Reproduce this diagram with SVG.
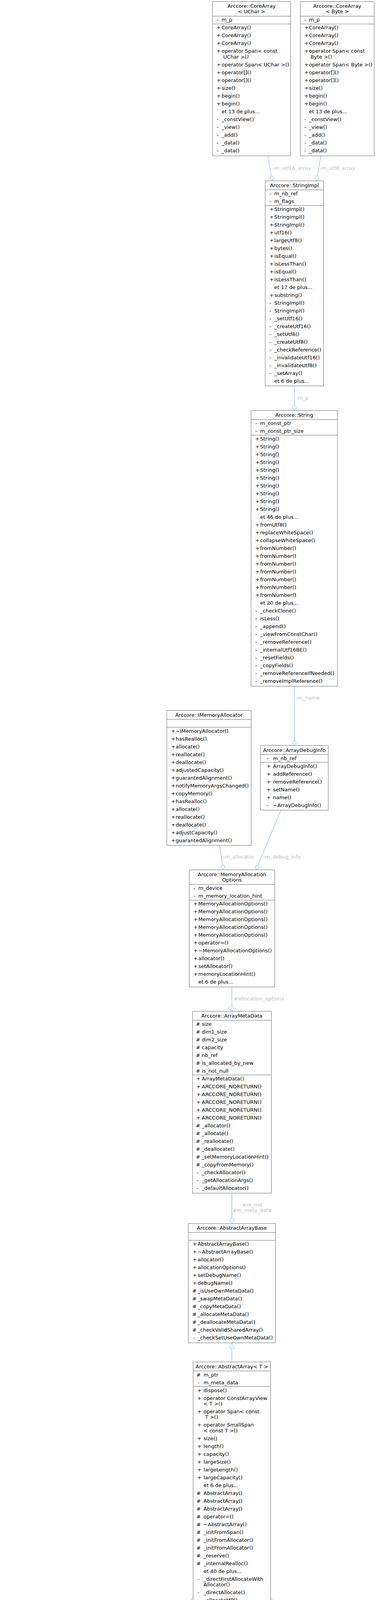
<svg xmlns="http://www.w3.org/2000/svg" width="978" height="6339" viewBox="0 0 978 6339">
<style>
text{font-family:"DejaVu Sans","Liberation Sans",sans-serif;font-size:13px;fill:#000}
.c{text-anchor:middle}
.b{fill:#fff;stroke:#666;stroke-width:1}
.g{fill:#fff;stroke:#bfbfbf;stroke-width:1}
.s{stroke:#666;stroke-width:1}
.sg{stroke:#bfbfbf;stroke-width:1}
.e{fill:none;stroke:#63b8ff;stroke-width:1.1}
.d{marker-end:url(#od)}
.t{marker-end:url(#tri)}
.l{fill:#bebebe}
</style>
<defs>
<marker id="od" viewBox="0 0 16 11" markerWidth="16" markerHeight="11" refX="15.5" refY="5.5" orient="auto" markerUnits="userSpaceOnUse"><path d="M0.5,5.5 L8,0.5 L15.5,5.5 L8,10.5 Z" fill="#fff" stroke="#63b8ff"/></marker>
<marker id="tri" viewBox="0 0 16 12" markerWidth="16" markerHeight="12" refX="15.5" refY="6" orient="auto" markerUnits="userSpaceOnUse"><path d="M0.5,0.5 L15.5,6 L0.5,11.5 Z" fill="#fff" stroke="#63b8ff"/></marker>
</defs>
<rect width="978" height="6339" fill="#fff"/>

<g id="edges">
<path class="e d" d="M685.7,399 L697,463"/>
<path class="e d" d="M821.7,399 L810,463"/>
<path class="e d" d="M754,988 L754,1051"/>
<path class="e d" d="M753.8,1756.5 L753.8,1908.6"/>
<path class="e d" d="M561.9,2164.2 L572,2226.9"/>
<path class="e d" d="M719,2074.1 L655.5,2226.9"/>
<path class="e d" d="M593.6,2526.8 L593.6,2588.9"/>
<path class="e d" d="M593.6,3054.4 L593.6,3132.2"/>
<path class="e t" d="M593.6,3486.6 L593.6,3437.7"/>
<path class="e t" d="M455.5,4200 L494.4,4090"/>
<path class="e t" d="M593.6,4200 L593.6,4150.2"/>
<path class="e t" d="M731.6,4200 L692.7,4090"/>
<path class="e t" d="M377.9,4685.4 L377.9,4629.2"/>
<path class="e t" d="M593.3,4679 L593.3,4629.2"/>
<path class="e t" d="M809.3,4982.5 L809.3,4629.2"/>
<path class="e d" d="M134,4851 C114,4960 112,5110 125,5200 C130,5240 136,5265 143,5281 L208,5386.5"/>
<path class="e d" d="M165.7,4851 C200,4900 245,4960 245,5040 L245,5250 C245,5285 265,5292 300,5292 L350,5293 C358,5294 365,5300 374.2,5309"/>
<path class="e d" d="M126,4851 C60,4960 10,5150 6,5354 C4,5560 120,5790 365,5889 L378.6,5897"/>
<path class="e d" d="M386.4,4951 C392,5040 400,5140 410,5230 L421,5301.2"/>
<path class="e d" d="M565.8,4959 C558,5020 555,5100 555,5160 C555,5220 545,5260 533,5301.2"/>
<path class="e d" d="M716.6,5272.7 C695,5290 665,5283 645,5290 C600,5305 575,5360 572,5420 C570,5480 582,5540 578,5600 L553.5,5678"/>
<path class="e d" d="M466.8,5615.5 L466.8,5678"/>
<path class="e d" d="M714,5586 C690,5625 600,5745 555,5811"/>
<path class="e t" d="M378.6,5732 C360,5690 315,5590 296,5532"/>
<path class="e t" d="M466.5,6247.7 L466.5,6198"/>
<path class="e d" d="M883,5426 C907,5432 914,5468 884,5491"/>
<text class="l" x="697.7" y="435">-m_utf16_array</text>
<text class="l" x="818.3" y="435">-m_utf8_array</text>
<text class="l" x="758" y="1023">-m_p</text>
<text class="l" x="757.6" y="1790.5">-m_name</text>
<text class="l" x="570.7" y="2198.2">-m_allocator</text>
<text class="l" x="673.7" y="2198.2">-m_debug_info</text>
<text class="l" x="598.5" y="2560.5">#allocation_options</text>
<text class="l c" x="645" y="3088.5">#m_md</text>
<text class="l c" x="645" y="3103">#m_meta_data</text>
<text class="l c" x="191.5" y="5126.1">#m_count</text>
<text class="l c" x="191.5" y="5140.5">#m_nb_bucket</text>
<text class="l c" x="326" y="5110.5">-m_buffer_size</text>
<text class="l c" x="326" y="5126.1">-m_current_buffer</text>
<text class="l c" x="326" y="5140.5">_size</text>
<text class="l c" x="326" y="5154.9">-m_nb_in_buffer</text>
<text class="l" x="421.3" y="5133.4">-m_current_buffer</text>
<text class="l" x="566.8" y="5133.4">-m_allocated_buffers</text>
<text class="l" x="63.3" y="5461.8">-m_max_count</text>
<text class="l" x="624" y="5462">-m_buckets</text>
<text class="l" x="912.3" y="5462.8">+m_next</text>
<text class="l" x="471.6" y="5650.4">-m_buffer</text>
<text class="l" x="680.6" y="5650.4">-m_first_free</text>
</g>

<g id="coreArrayUChar">
<rect class="b" x="544" y="4" width="200" height="395"/>
<line class="s" x1="544" y1="41.4" x2="744" y2="41.4"/><line class="s" x1="544" y1="61.4" x2="744" y2="61.4"/>
<text class="c" x="644" y="20">Arccore::CoreArray</text><text class="c" x="644" y="34.4">&lt; UChar &gt;</text>
<text x="554.5" y="55.4">-</text><text x="567.3" y="55.4">m_p</text>
<text x="554.5" y="75.4">+</text><text x="567.3" y="75.4">CoreArray()</text>
<text x="554.5" y="95.4">+</text><text x="567.3" y="95.4">CoreArray()</text>
<text x="554.5" y="115.4">+</text><text x="567.3" y="115.4">CoreArray()</text>
<text x="554.5" y="135.4">+</text><text x="567.3" y="135.4">operator Span&lt; const</text><text x="571.4" y="149.8">UChar &gt;()</text>
<text x="554.5" y="169.8">+</text><text x="567.3" y="169.8">operator Span&lt; UChar &gt;()</text>
<text x="554.5" y="189.8">+</text><text x="567.3" y="189.8">operator[]()</text>
<text x="554.5" y="209.8">+</text><text x="567.3" y="209.8">operator[]()</text>
<text x="554.5" y="229.8">+</text><text x="567.3" y="229.8">size()</text>
<text x="554.5" y="249.8">+</text><text x="567.3" y="249.8">begin()</text>
<text x="554.5" y="269.8">+</text><text x="567.3" y="269.8">begin()</text>
<text x="567.3" y="289.8">et 13 de plus...</text>
<text x="554.5" y="309.8">-</text><text x="567.3" y="309.8">_constView()</text>
<text x="554.5" y="329.8">-</text><text x="567.3" y="329.8">_view()</text>
<text x="554.5" y="349.8">-</text><text x="567.3" y="349.8">_add()</text>
<text x="554.5" y="369.8">-</text><text x="567.3" y="369.8">_data()</text>
<text x="554.5" y="389.8">-</text><text x="567.3" y="389.8">_data()</text>
</g>

<g id="coreArrayByte">
<rect class="b" x="769" y="4" width="189" height="395"/>
<line class="s" x1="769" y1="41.4" x2="958" y2="41.4"/><line class="s" x1="769" y1="61.4" x2="958" y2="61.4"/>
<text class="c" x="863.5" y="20">Arccore::CoreArray</text><text class="c" x="863.5" y="34.4">&lt; Byte &gt;</text>
<text x="779" y="55.4">-</text><text x="791" y="55.4">m_p</text>
<text x="779" y="75.4">+</text><text x="791" y="75.4">CoreArray()</text>
<text x="779" y="95.4">+</text><text x="791" y="95.4">CoreArray()</text>
<text x="779" y="115.4">+</text><text x="791" y="115.4">CoreArray()</text>
<text x="779" y="135.4">+</text><text x="791" y="135.4">operator Span&lt; const</text><text x="795.1" y="149.8">Byte &gt;()</text>
<text x="779" y="169.8">+</text><text x="791" y="169.8">operator Span&lt; Byte &gt;()</text>
<text x="779" y="189.8">+</text><text x="791" y="189.8">operator[]()</text>
<text x="779" y="209.8">+</text><text x="791" y="209.8">operator[]()</text>
<text x="779" y="229.8">+</text><text x="791" y="229.8">size()</text>
<text x="779" y="249.8">+</text><text x="791" y="249.8">begin()</text>
<text x="779" y="269.8">+</text><text x="791" y="269.8">begin()</text>
<text x="791" y="289.8">et 13 de plus...</text>
<text x="779" y="309.8">-</text><text x="791" y="309.8">_constView()</text>
<text x="779" y="329.8">-</text><text x="791" y="329.8">_view()</text>
<text x="779" y="349.8">-</text><text x="791" y="349.8">_add()</text>
<text x="779" y="369.8">-</text><text x="791" y="369.8">_data()</text>
<text x="779" y="389.8">-</text><text x="791" y="389.8">_data()</text>
</g>

<g id="stringImpl">
<rect class="b" x="679" y="463" width="149.5" height="525"/>
<line class="s" x1="679" y1="486" x2="828.5" y2="486"/><line class="s" x1="679" y1="526" x2="828.5" y2="526"/>
<text class="c" x="753.75" y="479">Arccore::StringImpl</text>
<text x="690" y="500">-</text><text x="702.3" y="500">m_nb_ref</text>
<text x="690" y="520">-</text><text x="702.3" y="520">m_flags</text>
<text x="690" y="540">+</text><text x="702.3" y="540">StringImpl()</text>
<text x="690" y="560">+</text><text x="702.3" y="560">StringImpl()</text>
<text x="690" y="580">+</text><text x="702.3" y="580">StringImpl()</text>
<text x="690" y="600">+</text><text x="702.3" y="600">utf16()</text>
<text x="690" y="620">+</text><text x="702.3" y="620">largeUtf8()</text>
<text x="690" y="640">+</text><text x="702.3" y="640">bytes()</text>
<text x="690" y="660">+</text><text x="702.3" y="660">isEqual()</text>
<text x="690" y="680">+</text><text x="702.3" y="680">isLessThan()</text>
<text x="690" y="700">+</text><text x="702.3" y="700">isEqual()</text>
<text x="690" y="720">+</text><text x="702.3" y="720">isLessThan()</text>
<text x="702.3" y="740">et 17 de plus...</text>
<text x="690" y="760">+</text><text x="702.3" y="760">substring()</text>
<text x="690" y="780">-</text><text x="702.3" y="780">StringImpl()</text>
<text x="690" y="800">-</text><text x="702.3" y="800">StringImpl()</text>
<text x="690" y="820">-</text><text x="702.3" y="820">_setUtf16()</text>
<text x="690" y="840">-</text><text x="702.3" y="840">_createUtf16()</text>
<text x="690" y="860">-</text><text x="702.3" y="860">_setUtf8()</text>
<text x="690" y="880">-</text><text x="702.3" y="880">_createUtf8()</text>
<text x="690" y="900">-</text><text x="702.3" y="900">_checkReference()</text>
<text x="690" y="920">-</text><text x="702.3" y="920">_invalidateUtf16()</text>
<text x="690" y="940">-</text><text x="702.3" y="940">_invalidateUtf8()</text>
<text x="690" y="960">-</text><text x="702.3" y="960">_setArray()</text>
<text x="702.3" y="980">et 6 de plus...</text>
</g>

<g id="string">
<rect class="b" x="642.7" y="1051" width="221.3" height="705.5"/>
<line class="s" x1="642.7" y1="1074" x2="864" y2="1074"/><line class="s" x1="642.7" y1="1114" x2="864" y2="1114"/>
<text class="c" x="753.35" y="1067">Arccore::String</text>
<text x="653.5" y="1088">-</text><text x="666" y="1088">m_const_ptr</text>
<text x="653.5" y="1108">-</text><text x="666" y="1108">m_const_ptr_size</text>
<text x="653.5" y="1128">+</text><text x="666" y="1128">String()</text>
<text x="653.5" y="1148">+</text><text x="666" y="1148">String()</text>
<text x="653.5" y="1168">+</text><text x="666" y="1168">String()</text>
<text x="653.5" y="1188">+</text><text x="666" y="1188">String()</text>
<text x="653.5" y="1208">+</text><text x="666" y="1208">String()</text>
<text x="653.5" y="1228">+</text><text x="666" y="1228">String()</text>
<text x="653.5" y="1248">+</text><text x="666" y="1248">String()</text>
<text x="653.5" y="1268">+</text><text x="666" y="1268">String()</text>
<text x="653.5" y="1288">+</text><text x="666" y="1288">String()</text>
<text x="653.5" y="1308">+</text><text x="666" y="1308">String()</text>
<text x="666" y="1328">et 46 de plus...</text>
<text x="653.5" y="1348">+</text><text x="666" y="1348">fromUtf8()</text>
<text x="653.5" y="1368">+</text><text x="666" y="1368">replaceWhiteSpace()</text>
<text x="653.5" y="1388">+</text><text x="666" y="1388">collapseWhiteSpace()</text>
<text x="653.5" y="1408">+</text><text x="666" y="1408">fromNumber()</text>
<text x="653.5" y="1428">+</text><text x="666" y="1428">fromNumber()</text>
<text x="653.5" y="1448">+</text><text x="666" y="1448">fromNumber()</text>
<text x="653.5" y="1468">+</text><text x="666" y="1468">fromNumber()</text>
<text x="653.5" y="1488">+</text><text x="666" y="1488">fromNumber()</text>
<text x="653.5" y="1508">+</text><text x="666" y="1508">fromNumber()</text>
<text x="653.5" y="1528">+</text><text x="666" y="1528">fromNumber()</text>
<text x="666" y="1548">et 20 de plus...</text>
<text x="653.5" y="1568">-</text><text x="666" y="1568">_checkClone()</text>
<text x="653.5" y="1588">-</text><text x="666" y="1588">isLess()</text>
<text x="653.5" y="1608">-</text><text x="666" y="1608">_append()</text>
<text x="653.5" y="1628">-</text><text x="666" y="1628">_viewFromConstChar()</text>
<text x="653.5" y="1648">-</text><text x="666" y="1648">_removeReference()</text>
<text x="653.5" y="1668">-</text><text x="666" y="1668">_internalUtf16BE()</text>
<text x="653.5" y="1688">-</text><text x="666" y="1688">_resetFields()</text>
<text x="653.5" y="1708">-</text><text x="666" y="1708">_copyFields()</text>
<text x="653.5" y="1728">-</text><text x="666" y="1728">_removeReferenceIfNeeded()</text>
<text x="653.5" y="1748">-</text><text x="666" y="1748">_removeImplReference()</text>
</g>

<g id="iMemoryAllocator">
<rect class="b" x="427" y="1818.7" width="216" height="345.5"/>
<line class="s" x1="427" y1="1841.7" x2="643" y2="1841.7"/><line class="s" x1="427" y1="1861.7" x2="643" y2="1861.7"/>
<text class="c" x="535" y="1834.7">Arccore::IMemoryAllocator</text>
<text x="438" y="1875.7">+</text><text x="449.8" y="1875.7">~IMemoryAllocator()</text>
<text x="438" y="1895.7">+</text><text x="449.8" y="1895.7">hasRealloc()</text>
<text x="438" y="1915.7">+</text><text x="449.8" y="1915.7">allocate()</text>
<text x="438" y="1935.7">+</text><text x="449.8" y="1935.7">reallocate()</text>
<text x="438" y="1955.7">+</text><text x="449.8" y="1955.7">deallocate()</text>
<text x="438" y="1975.7">+</text><text x="449.8" y="1975.7">adjustedCapacity()</text>
<text x="438" y="1995.7">+</text><text x="449.8" y="1995.7">guarantedAlignment()</text>
<text x="438" y="2015.7">+</text><text x="449.8" y="2015.7">notifyMemoryArgsChanged()</text>
<text x="438" y="2035.7">+</text><text x="449.8" y="2035.7">copyMemory()</text>
<text x="438" y="2055.7">+</text><text x="449.8" y="2055.7">hasRealloc()</text>
<text x="438" y="2075.7">+</text><text x="449.8" y="2075.7">allocate()</text>
<text x="438" y="2095.7">+</text><text x="449.8" y="2095.7">reallocate()</text>
<text x="438" y="2115.7">+</text><text x="449.8" y="2115.7">deallocate()</text>
<text x="438" y="2135.7">+</text><text x="449.8" y="2135.7">adjustCapacity()</text>
<text x="438" y="2155.7">+</text><text x="449.8" y="2155.7">guarantedAlignment()</text>
</g>

<g id="arrayDebugInfo">
<rect class="b" x="666.8" y="1908.6" width="173.6" height="165.5"/>
<line class="s" x1="666.8" y1="1931.6" x2="840.4" y2="1931.6"/><line class="s" x1="666.8" y1="1951.6" x2="840.4" y2="1951.6"/>
<text class="c" x="753.6" y="1924.6">Arccore::ArrayDebugInfo</text>
<text x="682.4" y="1945.6">-</text><text x="699" y="1945.6">m_nb_ref</text>
<text x="682.4" y="1965.6">+</text><text x="699" y="1965.6">ArrayDebugInfo()</text>
<text x="682.4" y="1985.6">+</text><text x="699" y="1985.6">addReference()</text>
<text x="682.4" y="2005.6">+</text><text x="699" y="2005.6">removeReference()</text>
<text x="682.4" y="2025.6">+</text><text x="699" y="2025.6">setName()</text>
<text x="682.4" y="2045.6">+</text><text x="699" y="2045.6">name()</text>
<text x="682.4" y="2065.6">-</text><text x="699" y="2065.6">~ArrayDebugInfo()</text>
</g>

<g id="memoryAllocationOptions">
<rect class="b" x="484.5" y="2226.9" width="218.9" height="299.9"/>
<line class="s" x1="484.5" y1="2264.3" x2="703.4" y2="2264.3"/><line class="s" x1="484.5" y1="2304.3" x2="703.4" y2="2304.3"/>
<text class="c" x="593.95" y="2242.9">Arccore::MemoryAllocation</text><text class="c" x="593.95" y="2257.3">Options</text>
<text x="495.2" y="2278.3">-</text><text x="507.8" y="2278.3">m_device</text>
<text x="495.2" y="2298.3">-</text><text x="507.8" y="2298.3">m_memory_location_hint</text>
<text x="495.2" y="2318.3">+</text><text x="507.8" y="2318.3">MemoryAllocationOptions()</text>
<text x="495.2" y="2338.3">+</text><text x="507.8" y="2338.3">MemoryAllocationOptions()</text>
<text x="495.2" y="2358.3">+</text><text x="507.8" y="2358.3">MemoryAllocationOptions()</text>
<text x="495.2" y="2378.3">+</text><text x="507.8" y="2378.3">MemoryAllocationOptions()</text>
<text x="495.2" y="2398.3">+</text><text x="507.8" y="2398.3">MemoryAllocationOptions()</text>
<text x="495.2" y="2418.3">+</text><text x="507.8" y="2418.3">operator=()</text>
<text x="495.2" y="2438.3">+</text><text x="507.8" y="2438.3">~MemoryAllocationOptions()</text>
<text x="495.2" y="2458.3">+</text><text x="507.8" y="2458.3">allocator()</text>
<text x="495.2" y="2478.3">+</text><text x="507.8" y="2478.3">setAllocator()</text>
<text x="495.2" y="2498.3">+</text><text x="507.8" y="2498.3">memoryLocationHint()</text>
<text x="507.8" y="2518.3">et 6 de plus...</text>
</g>

<g id="arrayMetaData">
<rect class="b" x="492.9" y="2588.9" width="201.8" height="465.5"/>
<line class="s" x1="492.9" y1="2611.9" x2="694.7" y2="2611.9"/><line class="s" x1="492.9" y1="2751.9" x2="694.7" y2="2751.9"/>
<text class="c" x="593.8" y="2604.9">Arccore::ArrayMetaData</text>
<text x="501.5" y="2625.9">#</text><text x="516.5" y="2625.9">size</text>
<text x="501.5" y="2645.9">#</text><text x="516.5" y="2645.9">dim1_size</text>
<text x="501.5" y="2665.9">#</text><text x="516.5" y="2665.9">dim2_size</text>
<text x="501.5" y="2685.9">#</text><text x="516.5" y="2685.9">capacity</text>
<text x="501.5" y="2705.9">#</text><text x="516.5" y="2705.9">nb_ref</text>
<text x="501.5" y="2725.9">#</text><text x="516.5" y="2725.9">is_allocated_by_new</text>
<text x="501.5" y="2745.9">#</text><text x="516.5" y="2745.9">is_not_null</text>
<text x="502.5" y="2765.9">+</text><text x="516.5" y="2765.9">ArrayMetaData()</text>
<text x="502.5" y="2785.9">+</text><text x="516.5" y="2785.9">ARCCORE_NORETURN()</text>
<text x="502.5" y="2805.9">+</text><text x="516.5" y="2805.9">ARCCORE_NORETURN()</text>
<text x="502.5" y="2825.9">+</text><text x="516.5" y="2825.9">ARCCORE_NORETURN()</text>
<text x="502.5" y="2845.9">+</text><text x="516.5" y="2845.9">ARCCORE_NORETURN()</text>
<text x="502.5" y="2865.9">+</text><text x="516.5" y="2865.9">ARCCORE_NORETURN()</text>
<text x="501.5" y="2885.9">#</text><text x="516.5" y="2885.9">_allocator()</text>
<text x="501.5" y="2905.9">#</text><text x="516.5" y="2905.9">_allocate()</text>
<text x="501.5" y="2925.9">#</text><text x="516.5" y="2925.9">_reallocate()</text>
<text x="501.5" y="2945.9">#</text><text x="516.5" y="2945.9">_deallocate()</text>
<text x="501.5" y="2965.9">#</text><text x="516.5" y="2965.9">_setMemoryLocationHint()</text>
<text x="501.5" y="2985.9">#</text><text x="516.5" y="2985.9">_copyFromMemory()</text>
<text x="503.5" y="3005.9">-</text><text x="516.5" y="3005.9">_checkAllocator()</text>
<text x="503.5" y="3025.9">-</text><text x="516.5" y="3025.9">_getAllocationArgs()</text>
<text x="503.5" y="3045.9">-</text><text x="516.5" y="3045.9">_defaultAllocator()</text>
</g>

<g id="abstractArrayBase">
<rect class="b" x="482.2" y="3132.2" width="223.1" height="305.5"/>
<line class="s" x1="482.2" y1="3155.2" x2="705.3" y2="3155.2"/><line class="s" x1="482.2" y1="3175.2" x2="705.3" y2="3175.2"/>
<text class="c" x="593.75" y="3148.2">Arccore::AbstractArrayBase</text>
<text x="493.2" y="3189.2">+</text><text x="505.9" y="3189.2">AbstractArrayBase()</text>
<text x="493.2" y="3209.2">+</text><text x="505.9" y="3209.2">~AbstractArrayBase()</text>
<text x="493.2" y="3229.2">+</text><text x="505.9" y="3229.2">allocator()</text>
<text x="493.2" y="3249.2">+</text><text x="505.9" y="3249.2">allocationOptions()</text>
<text x="493.2" y="3269.2">+</text><text x="505.9" y="3269.2">setDebugName()</text>
<text x="493.2" y="3289.2">+</text><text x="505.9" y="3289.2">debugName()</text>
<text x="492.2" y="3309.2">#</text><text x="505.9" y="3309.2">_isUseOwnMetaData()</text>
<text x="492.2" y="3329.2">#</text><text x="505.9" y="3329.2">_swapMetaData()</text>
<text x="492.2" y="3349.2">#</text><text x="505.9" y="3349.2">_copyMetaData()</text>
<text x="492.2" y="3369.2">#</text><text x="505.9" y="3369.2">_allocateMetaData()</text>
<text x="492.2" y="3389.2">#</text><text x="505.9" y="3389.2">_deallocateMetaData()</text>
<text x="492.2" y="3409.2">#</text><text x="505.9" y="3409.2">_checkValidSharedArray()</text>
<text x="494.2" y="3429.2">-</text><text x="505.9" y="3429.2">_checkSetUseOwnMetaData()</text>
</g>

<g id="abstractArray">
<rect class="b" x="494.4" y="3486.6" width="198.3" height="663.6"/>
<line class="s" x1="494.4" y1="3509.6" x2="692.7" y2="3509.6"/><line class="s" x1="494.4" y1="3549.6" x2="692.7" y2="3549.6"/>
<text class="c" x="593.55" y="3502.6">Arccore::AbstractArray&lt; T &gt;</text>
<text x="503" y="3523.6">#</text><text x="521.1" y="3523.6">m_ptr</text>
<text x="506" y="3543.6">-</text><text x="521.1" y="3543.6">m_meta_data</text>
<text x="505" y="3563.6">+</text><text x="521.1" y="3563.6">dispose()</text>
<text x="505" y="3583.6">+</text><text x="521.1" y="3583.6">operator ConstArrayView</text><text x="521.1" y="3598">&lt; T &gt;()</text>
<text x="505" y="3618">+</text><text x="521.1" y="3618">operator Span&lt; const</text><text x="525.2" y="3632.4">T &gt;()</text>
<text x="505" y="3652.4">+</text><text x="521.1" y="3652.4">operator SmallSpan</text><text x="521.1" y="3666.8">&lt; const T &gt;()</text>
<text x="505" y="3686.8">+</text><text x="521.1" y="3686.8">size()</text>
<text x="505" y="3706.8">+</text><text x="521.1" y="3706.8">length()</text>
<text x="505" y="3726.8">+</text><text x="521.1" y="3726.8">capacity()</text>
<text x="505" y="3746.8">+</text><text x="521.1" y="3746.8">largeSize()</text>
<text x="505" y="3766.8">+</text><text x="521.1" y="3766.8">largeLength()</text>
<text x="505" y="3786.8">+</text><text x="521.1" y="3786.8">largeCapacity()</text>
<text x="521.1" y="3806.8">et 6 de plus...</text>
<text x="503" y="3826.8">#</text><text x="521.1" y="3826.8">AbstractArray()</text>
<text x="503" y="3846.8">#</text><text x="521.1" y="3846.8">AbstractArray()</text>
<text x="503" y="3866.8">#</text><text x="521.1" y="3866.8">AbstractArray()</text>
<text x="503" y="3886.8">#</text><text x="521.1" y="3886.8">operator=()</text>
<text x="503" y="3906.8">#</text><text x="521.1" y="3906.8">~AbstractArray()</text>
<text x="503" y="3926.8">#</text><text x="521.1" y="3926.8">_initFromSpan()</text>
<text x="503" y="3946.8">#</text><text x="521.1" y="3946.8">_initFromAllocator()</text>
<text x="503" y="3966.8">#</text><text x="521.1" y="3966.8">_initFromAllocator()</text>
<text x="503" y="3986.8">#</text><text x="521.1" y="3986.8">_reserve()</text>
<text x="503" y="4006.8">#</text><text x="521.1" y="4006.8">_internalRealloc()</text>
<text x="521.1" y="4026.8">et 40 de plus...</text>
<text x="506" y="4046.8">-</text><text x="521.1" y="4046.8">_directFirstAllocateWith</text><text x="521.1" y="4061.2">Allocator()</text>
<text x="506" y="4081.2">-</text><text x="521.1" y="4081.2">_directAllocate()</text>
<text x="506" y="4101.2">-</text><text x="521.1" y="4101.2">_allocateMP()</text>
<text x="506" y="4121.2">-</text><text x="521.1" y="4121.2">_directReAllocate()</text>
<text x="506" y="4141.2">-</text><text x="521.1" y="4141.2">_setToSharedNull()</text>
</g>

<g id="array1">
<rect class="b" x="281.6" y="4200" width="191.8" height="429.2"/>
<line class="s" x1="281.6" y1="4223" x2="473.4" y2="4223"/><line class="s" x1="281.6" y1="4243" x2="473.4" y2="4243"/>
<text class="c" x="377.5" y="4216">Arccore::Array&lt; T &gt;</text>
<text x="292.2" y="4257">+</text><text x="304.8" y="4257">~Array()</text>
<text x="292.2" y="4277">+</text><text x="304.8" y="4277">operator ConstArrayView</text><text x="304.8" y="4291.4">&lt; T &gt;()</text>
<text x="292.2" y="4311.4">+</text><text x="304.8" y="4311.4">operator ArrayView</text><text x="304.8" y="4325.8">&lt; T &gt;()</text>
<text x="292.2" y="4345.8">+</text><text x="304.8" y="4345.8">operator Span&lt; const</text><text x="308.9" y="4360.2">T &gt;()</text>
<text x="292.2" y="4380.2">+</text><text x="304.8" y="4380.2">operator Span&lt; T &gt;()</text>
<text x="292.2" y="4400.2">+</text><text x="304.8" y="4400.2">constView()</text>
<text x="292.2" y="4420.2">+</text><text x="304.8" y="4420.2">constSpan()</text>
<text x="292.2" y="4440.2">+</text><text x="304.8" y="4440.2">subConstView()</text>
<text x="292.2" y="4460.2">+</text><text x="304.8" y="4460.2">view()</text>
<text x="292.2" y="4480.2">+</text><text x="304.8" y="4480.2">span()</text>
<text x="304.8" y="4500.2">et 53 de plus...</text>
<text x="291.2" y="4520.2">#</text><text x="304.8" y="4520.2">Array()</text>
<text x="291.2" y="4540.2">#</text><text x="304.8" y="4540.2">Array()</text>
<text x="291.2" y="4560.2">#</text><text x="304.8" y="4560.2">_initFromInitializerList()</text>
<text x="293.2" y="4580.2">-</text><text x="304.8" y="4580.2">Array()</text>
<text x="293.2" y="4600.2">-</text><text x="304.8" y="4600.2">operator=()</text>
<text x="293.2" y="4620.2">-</text><text x="304.8" y="4620.2">TV_ttf_display_type()</text>
</g>

<g id="array2">
<rect class="b" x="497.9" y="4200" width="191.8" height="429.2"/>
<line class="s" x1="497.9" y1="4223" x2="689.7" y2="4223"/><line class="s" x1="497.9" y1="4243" x2="689.7" y2="4243"/>
<text class="c" x="593.8" y="4216">Arccore::Array&lt; T &gt;</text>
<text x="508.5" y="4257">+</text><text x="521.1" y="4257">~Array()</text>
<text x="508.5" y="4277">+</text><text x="521.1" y="4277">operator ConstArrayView</text><text x="521.1" y="4291.4">&lt; T &gt;()</text>
<text x="508.5" y="4311.4">+</text><text x="521.1" y="4311.4">operator ArrayView</text><text x="521.1" y="4325.8">&lt; T &gt;()</text>
<text x="508.5" y="4345.8">+</text><text x="521.1" y="4345.8">operator Span&lt; const</text><text x="525.2" y="4360.2">T &gt;()</text>
<text x="508.5" y="4380.2">+</text><text x="521.1" y="4380.2">operator Span&lt; T &gt;()</text>
<text x="508.5" y="4400.2">+</text><text x="521.1" y="4400.2">constView()</text>
<text x="508.5" y="4420.2">+</text><text x="521.1" y="4420.2">constSpan()</text>
<text x="508.5" y="4440.2">+</text><text x="521.1" y="4440.2">subConstView()</text>
<text x="508.5" y="4460.2">+</text><text x="521.1" y="4460.2">view()</text>
<text x="508.5" y="4480.2">+</text><text x="521.1" y="4480.2">span()</text>
<text x="521.1" y="4500.2">et 53 de plus...</text>
<text x="507.5" y="4520.2">#</text><text x="521.1" y="4520.2">Array()</text>
<text x="507.5" y="4540.2">#</text><text x="521.1" y="4540.2">Array()</text>
<text x="507.5" y="4560.2">#</text><text x="521.1" y="4560.2">_initFromInitializerList()</text>
<text x="509.5" y="4580.2">-</text><text x="521.1" y="4580.2">Array()</text>
<text x="509.5" y="4600.2">-</text><text x="521.1" y="4600.2">operator=()</text>
<text x="509.5" y="4620.2">-</text><text x="521.1" y="4620.2">TV_ttf_display_type()</text>
</g>

<g id="array3">
<rect class="b" x="713.7" y="4200" width="191.8" height="429.2"/>
<line class="s" x1="713.7" y1="4223" x2="905.5" y2="4223"/><line class="s" x1="713.7" y1="4243" x2="905.5" y2="4243"/>
<text class="c" x="809.6" y="4216">Arccore::Array&lt; T &gt;</text>
<text x="724.3" y="4257">+</text><text x="736.9" y="4257">~Array()</text>
<text x="724.3" y="4277">+</text><text x="736.9" y="4277">operator ConstArrayView</text><text x="736.9" y="4291.4">&lt; T &gt;()</text>
<text x="724.3" y="4311.4">+</text><text x="736.9" y="4311.4">operator ArrayView</text><text x="736.9" y="4325.8">&lt; T &gt;()</text>
<text x="724.3" y="4345.8">+</text><text x="736.9" y="4345.8">operator Span&lt; const</text><text x="741" y="4360.2">T &gt;()</text>
<text x="724.3" y="4380.2">+</text><text x="736.9" y="4380.2">operator Span&lt; T &gt;()</text>
<text x="724.3" y="4400.2">+</text><text x="736.9" y="4400.2">constView()</text>
<text x="724.3" y="4420.2">+</text><text x="736.9" y="4420.2">constSpan()</text>
<text x="724.3" y="4440.2">+</text><text x="736.9" y="4440.2">subConstView()</text>
<text x="724.3" y="4460.2">+</text><text x="736.9" y="4460.2">view()</text>
<text x="724.3" y="4480.2">+</text><text x="736.9" y="4480.2">span()</text>
<text x="736.9" y="4500.2">et 53 de plus...</text>
<text x="723.3" y="4520.2">#</text><text x="736.9" y="4520.2">Array()</text>
<text x="723.3" y="4540.2">#</text><text x="736.9" y="4540.2">Array()</text>
<text x="723.3" y="4560.2">#</text><text x="736.9" y="4560.2">_initFromInitializerList()</text>
<text x="725.3" y="4580.2">-</text><text x="736.9" y="4580.2">Array()</text>
<text x="725.3" y="4600.2">-</text><text x="736.9" y="4600.2">operator=()</text>
<text x="725.3" y="4620.2">-</text><text x="736.9" y="4620.2">TV_ttf_display_type()</text>
</g>

<g id="uniqueArrayT">
<rect class="b" x="282.6" y="4685.4" width="190.6" height="265.5"/>
<line class="s" x1="282.6" y1="4708.4" x2="473.2" y2="4708.4"/><line class="s" x1="282.6" y1="4728.4" x2="473.2" y2="4728.4"/>
<text class="c" x="377.9" y="4701.4">Arccore::UniqueArray&lt; T &gt;</text>
<text x="309.6" y="4742.4">+</text><text x="338.2" y="4742.4">UniqueArray()</text>
<text x="309.6" y="4762.4">+</text><text x="338.2" y="4762.4">UniqueArray()</text>
<text x="309.6" y="4782.4">+</text><text x="338.2" y="4782.4">UniqueArray()</text>
<text x="309.6" y="4802.4">+</text><text x="338.2" y="4802.4">UniqueArray()</text>
<text x="309.6" y="4822.4">+</text><text x="338.2" y="4822.4">UniqueArray()</text>
<text x="309.6" y="4842.4">+</text><text x="338.2" y="4842.4">UniqueArray()</text>
<text x="309.6" y="4862.4">+</text><text x="338.2" y="4862.4">UniqueArray()</text>
<text x="309.6" y="4882.4">+</text><text x="338.2" y="4882.4">UniqueArray()</text>
<text x="309.6" y="4902.4">+</text><text x="338.2" y="4902.4">UniqueArray()</text>
<text x="309.6" y="4922.4">+</text><text x="338.2" y="4922.4">UniqueArray()</text>
<text x="338.2" y="4942.4">et 27 de plus...</text>
</g>

<g id="uniqueArrayPtr">
<rect class="b" x="497" y="4679" width="193.2" height="279.9"/>
<line class="s" x1="497" y1="4716.4" x2="690.2" y2="4716.4"/><line class="s" x1="497" y1="4736.4" x2="690.2" y2="4736.4"/>
<text x="504.9" y="4695">Arccore::UniqueArray</text><text class="c" x="593.6" y="4709.4">&lt; Arccore::UniqueArray * &gt;</text>
<text x="524.5" y="4750.4">+</text><text x="554" y="4750.4">UniqueArray()</text>
<text x="524.5" y="4770.4">+</text><text x="554" y="4770.4">UniqueArray()</text>
<text x="524.5" y="4790.4">+</text><text x="554" y="4790.4">UniqueArray()</text>
<text x="524.5" y="4810.4">+</text><text x="554" y="4810.4">UniqueArray()</text>
<text x="524.5" y="4830.4">+</text><text x="554" y="4830.4">UniqueArray()</text>
<text x="524.5" y="4850.4">+</text><text x="554" y="4850.4">UniqueArray()</text>
<text x="524.5" y="4870.4">+</text><text x="554" y="4870.4">UniqueArray()</text>
<text x="524.5" y="4890.4">+</text><text x="554" y="4890.4">UniqueArray()</text>
<text x="524.5" y="4910.4">+</text><text x="554" y="4910.4">UniqueArray()</text>
<text x="524.5" y="4930.4">+</text><text x="554" y="4930.4">UniqueArray()</text>
<text x="554" y="4950.4">et 27 de plus...</text>
</g>

<g id="uniqueArrayHashData">
<rect class="b" x="717.2" y="4982.5" width="184.7" height="294.3"/>
<line class="s" x1="717.2" y1="5034.3" x2="901.9" y2="5034.3"/><line class="s" x1="717.2" y1="5054.3" x2="901.9" y2="5054.3"/>
<text x="724.6" y="4998.5">Arccore::UniqueArray</text><text x="724.6" y="5012.9">&lt; Arcane::HashTableMapT</text><text class="c" x="809.55" y="5027.3">::Data * &gt;</text>
<text x="743" y="5068.3">+</text><text x="770" y="5068.3">UniqueArray()</text>
<text x="743" y="5088.3">+</text><text x="770" y="5088.3">UniqueArray()</text>
<text x="743" y="5108.3">+</text><text x="770" y="5108.3">UniqueArray()</text>
<text x="743" y="5128.3">+</text><text x="770" y="5128.3">UniqueArray()</text>
<text x="743" y="5148.3">+</text><text x="770" y="5148.3">UniqueArray()</text>
<text x="743" y="5168.3">+</text><text x="770" y="5168.3">UniqueArray()</text>
<text x="743" y="5188.3">+</text><text x="770" y="5188.3">UniqueArray()</text>
<text x="743" y="5208.3">+</text><text x="770" y="5208.3">UniqueArray()</text>
<text x="743" y="5228.3">+</text><text x="770" y="5228.3">UniqueArray()</text>
<text x="743" y="5248.3">+</text><text x="770" y="5248.3">UniqueArray()</text>
<text x="770" y="5268.3">et 27 de plus...</text>
</g>

<g id="integer">
<rect class="g" x="110" y="4786.4" width="60.3" height="64.4"/>
<line class="sg" x1="110" y1="4809.3" x2="170.3" y2="4809.3"/><line class="sg" x1="110" y1="4829" x2="170.3" y2="4829"/>
<text class="c" x="140.15" y="4802.4">Integer</text>
</g>

<g id="multiBufferT">
<rect class="b" x="374.2" y="5301.2" width="185.2" height="214.3"/>
<line class="s" x1="374.2" y1="5353" x2="559.4" y2="5353"/><line class="s" x1="374.2" y1="5373" x2="559.4" y2="5373"/>
<text x="382.1" y="5317.2">Arcane::MultiBufferT</text><text x="382.1" y="5331.6">&lt; Arcane::HashTableMapT</text><text class="c" x="466.8" y="5346">::Data &gt;</text>
<text x="385.8" y="5387">+</text><text x="398" y="5387">MultiBufferT()</text>
<text x="385.8" y="5407">+</text><text x="398" y="5407">MultiBufferT()</text>
<text x="385.8" y="5427">+</text><text x="398" y="5427">MultiBufferT()</text>
<text x="385.8" y="5447">+</text><text x="398" y="5447">~MultiBufferT()</text>
<text x="385.8" y="5467">+</text><text x="398" y="5467">operator=()</text>
<text x="385.8" y="5487">+</text><text x="398" y="5487">allocOne()</text>
<text x="385.8" y="5507">+</text><text x="398" y="5507">allocMany()</text>
<text x="385.8" y="5527">+</text><text x="398" y="5527">clear()</text>
<text x="385.8" y="5547">+</text><text x="398" y="5547">nbAllocatedBuffer()</text>
<text x="385.8" y="5567">+</text><text x="398" y="5567">bufferSize()</text>
<text x="384.8" y="5587">#</text><text x="398" y="5587">_freeAllocatedBuffers()</text>
<text x="386.8" y="5607">-</text><text x="398" y="5607">_allocateCurrentBuffer()</text>
</g>

<g id="hashTableBase">
<rect class="b" x="173" y="5386.5" width="176.8" height="145.5"/>
<line class="s" x1="173" y1="5409.5" x2="349.8" y2="5409.5"/><line class="s" x1="173" y1="5429.5" x2="349.8" y2="5429.5"/>
<text class="c" x="261.4" y="5402.5">Arcane::HashTableBase</text>
<text x="183.6" y="5443.5">+</text><text x="196.9" y="5443.5">HashTableBase()</text>
<text x="183.6" y="5463.5">+</text><text x="196.9" y="5463.5">~HashTableBase()</text>
<text x="183.6" y="5483.5">+</text><text x="196.9" y="5483.5">nearestPrimeNumber()</text>
<text x="183.6" y="5503.5">+</text><text x="196.9" y="5503.5">count()</text>
<text x="182.6" y="5523.5">#</text><text x="196.9" y="5523.5">ARCANE_NORETURN()</text>
</g>

<g id="hashTableMapTData">
<rect class="g" x="712.4" y="5331.6" width="170.4" height="254.3"/>
<line class="sg" x1="712.4" y1="5383.4" x2="882.8" y2="5383.4"/><line class="sg" x1="712.4" y1="5423.4" x2="882.8" y2="5423.4"/>
<text x="719.3" y="5347.6">Arcane::HashTableMapT</text><text x="719.3" y="5362">&lt; KeyType, ValueType,</text><text class="c" x="798.9" y="5376.4">KeyTraitsType &gt;::Data</text>
<text x="741.5" y="5397.4">+</text><text x="772.2" y="5397.4">m_key</text>
<text x="741.5" y="5417.4">+</text><text x="772.2" y="5417.4">m_value</text>
<text x="741.5" y="5437.4">+</text><text x="772.2" y="5437.4">Data()</text>
<text x="741.5" y="5457.4">+</text><text x="772.2" y="5457.4">next()</text>
<text x="741.5" y="5477.4">+</text><text x="772.2" y="5477.4">setNext()</text>
<text x="741.5" y="5497.4">+</text><text x="772.2" y="5497.4">key()</text>
<text x="741.5" y="5517.4">+</text><text x="772.2" y="5517.4">value()</text>
<text x="741.5" y="5537.4">+</text><text x="772.2" y="5537.4">value()</text>
<text x="741.5" y="5557.4">+</text><text x="772.2" y="5557.4">setValue()</text>
<text x="741.5" y="5577.4">+</text><text x="772.2" y="5577.4">setKey()</text>
</g>

<g id="hashTableMapTInt64">
<rect class="b" x="378.6" y="5678" width="176" height="519.9"/>
<line class="s" x1="378.6" y1="5715.4" x2="554.6" y2="5715.4"/><line class="s" x1="378.6" y1="5755.4" x2="554.6" y2="5755.4"/>
<text x="385.8" y="5694">Arcane::HashTableMapT</text><text class="c" x="466.6" y="5708.4">&lt; Int64, ItemInternal * &gt;</text>
<text x="390" y="5729.4">+</text><text x="402.2" y="5729.4">m_nb_collision</text>
<text x="390" y="5749.4">+</text><text x="402.2" y="5749.4">m_nb_direct</text>
<text x="390" y="5769.4">+</text><text x="402.2" y="5769.4">HashTableMapT()</text>
<text x="390" y="5789.4">+</text><text x="402.2" y="5789.4">HashTableMapT()</text>
<text x="390" y="5809.4">+</text><text x="402.2" y="5809.4">~HashTableMapT()</text>
<text x="390" y="5829.4">+</text><text x="402.2" y="5829.4">operator=()</text>
<text x="390" y="5849.4">+</text><text x="402.2" y="5849.4">hasKey()</text>
<text x="390" y="5869.4">+</text><text x="402.2" y="5869.4">clear()</text>
<text x="390" y="5889.4">+</text><text x="402.2" y="5889.4">lookup()</text>
<text x="390" y="5909.4">+</text><text x="402.2" y="5909.4">lookup()</text>
<text x="390" y="5929.4">+</text><text x="402.2" y="5929.4">lookupValue()</text>
<text x="390" y="5949.4">+</text><text x="402.2" y="5949.4">lookupValue()</text>
<text x="402.2" y="5969.4">et 13 de plus...</text>
<text x="391" y="5989.4">-</text><text x="402.2" y="5989.4">_rehash()</text>
<text x="391" y="6009.4">-</text><text x="402.2" y="6009.4">_add()</text>
<text x="391" y="6029.4">-</text><text x="402.2" y="6029.4">_applyHash()</text>
<text x="391" y="6049.4">-</text><text x="402.2" y="6049.4">_keyToBucket()</text>
<text x="391" y="6069.4">-</text><text x="402.2" y="6069.4">_hashValueToBucket()</text>
<text x="391" y="6089.4">-</text><text x="402.2" y="6089.4">_baseLookupBucket()</text>
<text x="391" y="6109.4">-</text><text x="402.2" y="6109.4">_baseRemoveBucket()</text>
<text x="391" y="6129.4">-</text><text x="402.2" y="6129.4">_baseLookup()</text>
<text x="391" y="6149.4">-</text><text x="402.2" y="6149.4">_baseRemove()</text>
<text x="391" y="6169.4">-</text><text x="402.2" y="6169.4">_baseAdd()</text>
<text x="402.2" y="6189.4">et 10 de plus...</text>
</g>

<g id="itemInternalMap">
<rect x="357.4" y="6247.7" width="218.9" height="85.5" fill="#999999" stroke="#666" stroke-width="1"/>
<line class="s" x1="357.4" y1="6270.7" x2="576.3" y2="6270.7"/><line class="s" x1="357.4" y1="6290.7" x2="576.3" y2="6290.7"/>
<text class="c" x="466.85" y="6263.7">Arcane::mesh::ItemInternalMap</text>
<text x="373" y="6304.7">+</text><text x="390.4" y="6304.7">ItemInternalMap()</text>
<text x="373" y="6324.7">+</text><text x="390.4" y="6324.7">notifyUniqueIdsChanged()</text>
</g>
</svg>
